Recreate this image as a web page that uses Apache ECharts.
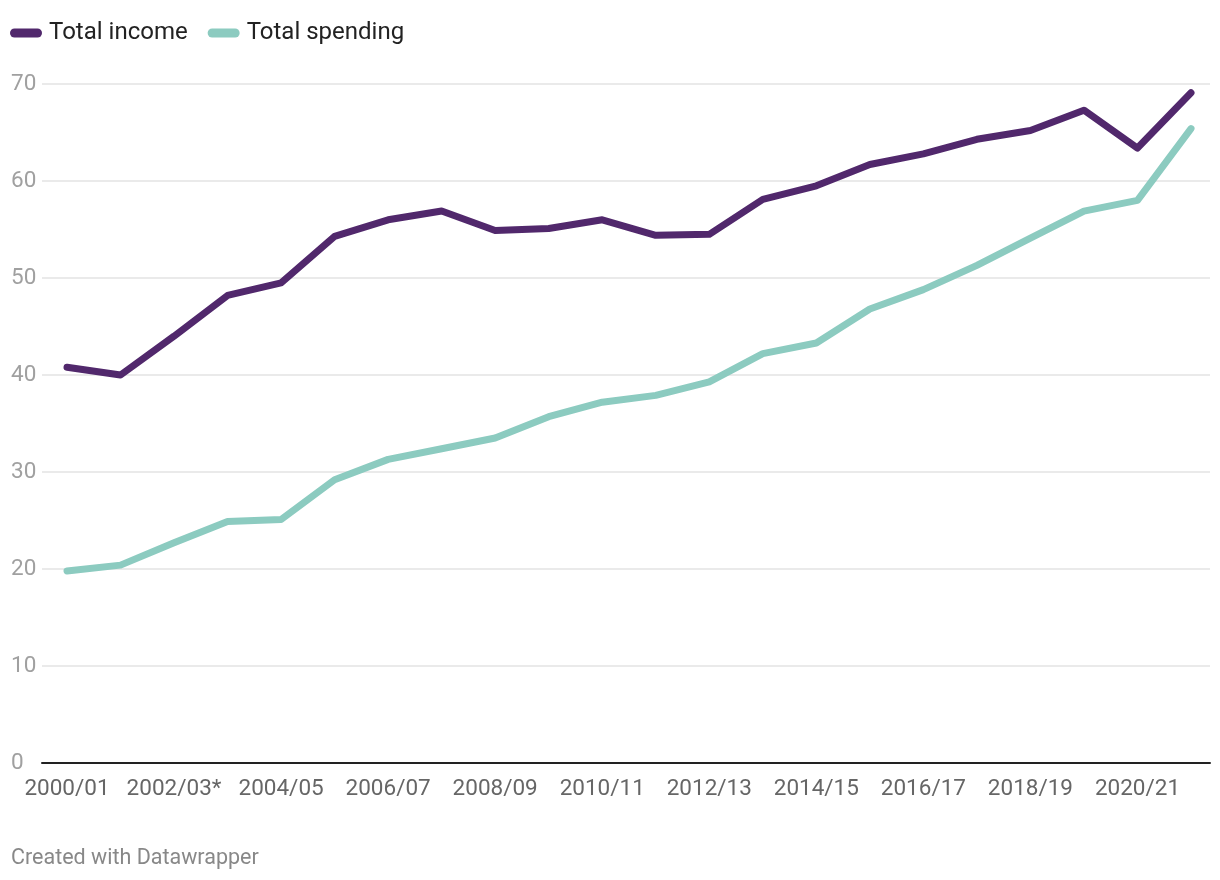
<!DOCTYPE html>
<html>
<head>
<meta charset="utf-8">
<script src="https://cdn.jsdelivr.net/npm/echarts@6/dist/echarts.min.js"></script>
<style>
html,body{margin:0;padding:0;background:#fff;}
#chart{width:1220px;height:880px;}
</style>
</head>
<body>
<div id="chart"></div>
<script>
var categories = ["2000/01","2001/02","2002/03*","2003/04","2004/05","2005/06","2006/07","2007/08","2008/09","2009/10","2010/11","2011/12","2012/13","2013/14","2014/15","2015/16","2016/17","2017/18","2018/19","2019/20","2020/21","2021/22"];
var totalIncome = [40.8,40.0,44.0,48.2,49.5,54.3,56.0,56.9,54.9,55.1,56.0,54.4,54.5,58.1,59.5,61.7,62.8,64.3,65.2,67.3,63.4,69.1];
var totalSpending = [19.8,20.4,22.7,24.9,25.1,29.2,31.3,32.4,33.5,35.7,37.2,37.9,39.3,42.2,43.3,46.8,48.8,51.3,54.1,56.9,58.0,65.4];
var yTicks = [0,10,20,30,40,50,60,70];
var labelIdx = [0,2,4,6,8,10,12,14,16,18,20];

function pairs(arr){ return arr.map(function(v,i){ return [i,v]; }); }

var chart = echarts.init(document.getElementById('chart'), null, {renderer:'canvas'});
var font = 'Roboto, "Noto Sans", sans-serif';
chart.setOption({
  animation:false,
  backgroundColor:'#fff',
  textStyle:{fontFamily:font},
  title:{
    text:'Created with Datawrapper', left:6, top:843,
    textStyle:{fontSize:21.5, fontWeight:'normal', color:'#888', fontFamily:font}
  },
  legend:{
    left:5, top:16, itemGap:20, itemWidth:32, itemHeight:9,
    icon:'path://M4.5,0 H27.5 A4.5,4.5 0 0 1 27.5,9 H4.5 A4.5,4.5 0 0 1 4.5,0 Z',
    textStyle:{fontSize:24, color:'#222', fontFamily:font, padding:[0,0,0,2]},
    data:['Total income','Total spending']
  },
  grid:{left:42, right:10, top:84, bottom:117, containLabel:false},
  xAxis:{
    type:'value', min:-0.467, max:21.355,
    axisLine:{show:true, onZero:false, lineStyle:{color:'#222', width:2}},
    axisTick:{show:false},
    splitLine:{show:false},
    axisLabel:{
      customValues:labelIdx, margin:15, fontSize:22.5, color:'#666', fontFamily:font,
      formatter:function(v){ return categories[Math.round(v)]; }
    }
  },
  yAxis:{
    type:'value', min:0, max:70, interval:10,
    axisLine:{show:false}, axisTick:{show:false},
    splitLine:{lineStyle:{color:'#e3e3e3', width:1.5}},
    axisLabel:{align:'left', margin:31, fontSize:22.5, color:'#a0a0a0', fontFamily:font}
  },
  series:[
    {name:'Total income', type:'line', data:pairs(totalIncome), showSymbol:false, symbol:'none',
     color:'#51286c', lineStyle:{width:7, cap:'round', join:'round', color:'#51286c'}, z:3},
    {name:'Total spending', type:'line', data:pairs(totalSpending), showSymbol:false, symbol:'none',
     color:'#8ccbc0', lineStyle:{width:7, cap:'round', join:'round', color:'#8ccbc0'}, z:2}
  ]
});
</script>
</body>
</html>
